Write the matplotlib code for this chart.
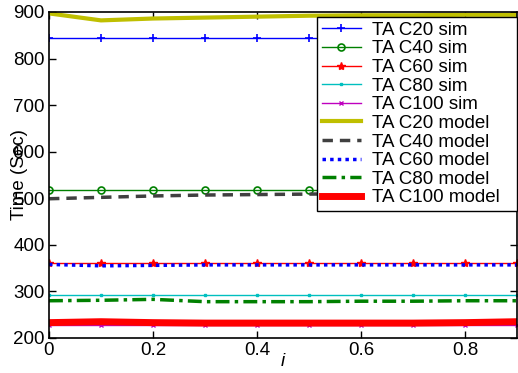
import matplotlib
matplotlib.use("Agg")
import matplotlib.pyplot as plt
import numpy as np

plt.rcParams["font.family"] = ["Liberation Sans", "DejaVu Sans"]

i_vals = [0.0, 0.1, 0.2, 0.3, 0.4, 0.5, 0.6, 0.7, 0.8, 0.9]

# simulated completion times
c20_sim = [845, 845, 845, 845, 845, 845, 845, 845, 845, 845]
c40_sim = [518, 518, 518, 518, 518, 518, 518, 518, 518, 518]
c60_sim = [360, 360, 360, 360, 360, 360, 360, 360, 360, 360]
c80_sim = [292, 292, 292, 292, 292, 292, 292, 292, 292, 292]
c100_sim = [228, 228, 228, 228, 228, 228, 228, 228, 228, 228]

# model predictions
c20_model = [897, 882, 886, 888, 890, 892, 893, 893, 894, 894]
c40_model = [499, 502, 505, 507, 508, 509, 510, 510, 511, 511]
c60_model = [358, 355, 356, 357, 357, 357, 357, 357, 357, 357]
c80_model = [280, 281, 283, 278, 278, 278, 279, 279, 280, 280]
c100_model = [233, 235, 233, 232, 232, 232, 232, 232, 233, 235]

W, H = 518, 373
fig = plt.figure(figsize=(W / 100, H / 100), dpi=100)
ax = fig.add_axes([49 / W, (H - 338) / H, (517 - 49) / W, (338 - 12) / H])

ax.plot(i_vals, c20_sim, color="#0000ff", lw=1, marker="+", ms=6, mew=1.2, label="TA C20 sim")
ax.plot(i_vals, c40_sim, color="#008000", lw=1, marker="o", ms=5, mfc="none", mew=1.2, label="TA C40 sim")
ax.plot(i_vals, c60_sim, color="#ff0000", lw=1, marker="*", ms=6, label="TA C60 sim")
ax.plot(i_vals, c80_sim, color="#00bfbf", lw=1, marker="s", ms=2, label="TA C80 sim")
ax.plot(i_vals, c100_sim, color="#bf00bf", lw=1, marker="x", ms=3, label="TA C100 sim")
ax.plot(i_vals, c20_model, color="#bfbf00", lw=3, label="TA C20 model")
ax.plot(i_vals, c40_model, color="#404040", lw=2.5, ls=(0, (3, 2)), label="TA C40 model")
ax.plot(i_vals, c60_model, color="#0000ff", lw=2.5, ls=(0, (1, 1.2)), label="TA C60 model")
ax.plot(i_vals, c80_model, color="#008000", lw=2.5, ls=(0, (4, 1.5, 1, 1.5)), label="TA C80 model")
ax.plot(i_vals, c100_model, color="#ff0000", lw=5, label="TA C100 model")

ax.set_xlim(0, 0.9)
ax.set_ylim(200, 900)
ax.set_xticks([0, 0.2, 0.4, 0.6, 0.8])
ax.set_xticklabels(["0", "0.2", "0.4", "0.6", "0.8"])
ax.set_yticks([200, 300, 400, 500, 600, 700, 800, 900])
ax.tick_params(direction="in", top=True, right=True, length=5, width=1, labelsize=13.5, pad=3)
for s in ax.spines.values():
    s.set_linewidth(1.2)

ax.set_xlabel("i", fontsize=13.5, style="italic")
ax.xaxis.set_label_coords(0.5, -0.045)
ax.set_ylabel("Time (Sec)", fontsize=13.5)
ax.yaxis.set_label_coords(-0.045, 0.5)

# legend box spans x 317..517, top at y 17 (pixels)
lx0 = (317 - 49) / 468
ltop = (338 - 17) / 326
leg = ax.legend(loc="upper left", bbox_to_anchor=(lx0, ltop - 0.6, 1.0 - lx0, 0.6), mode="expand",
                borderaxespad=0, fontsize=13.5, labelspacing=0.08, handlelength=2.1,
                handletextpad=0.6, borderpad=0.25, fancybox=False, framealpha=1,
                edgecolor="black")
leg.get_frame().set_linewidth(1.0)

fig.savefig("out.png", dpi=100)
